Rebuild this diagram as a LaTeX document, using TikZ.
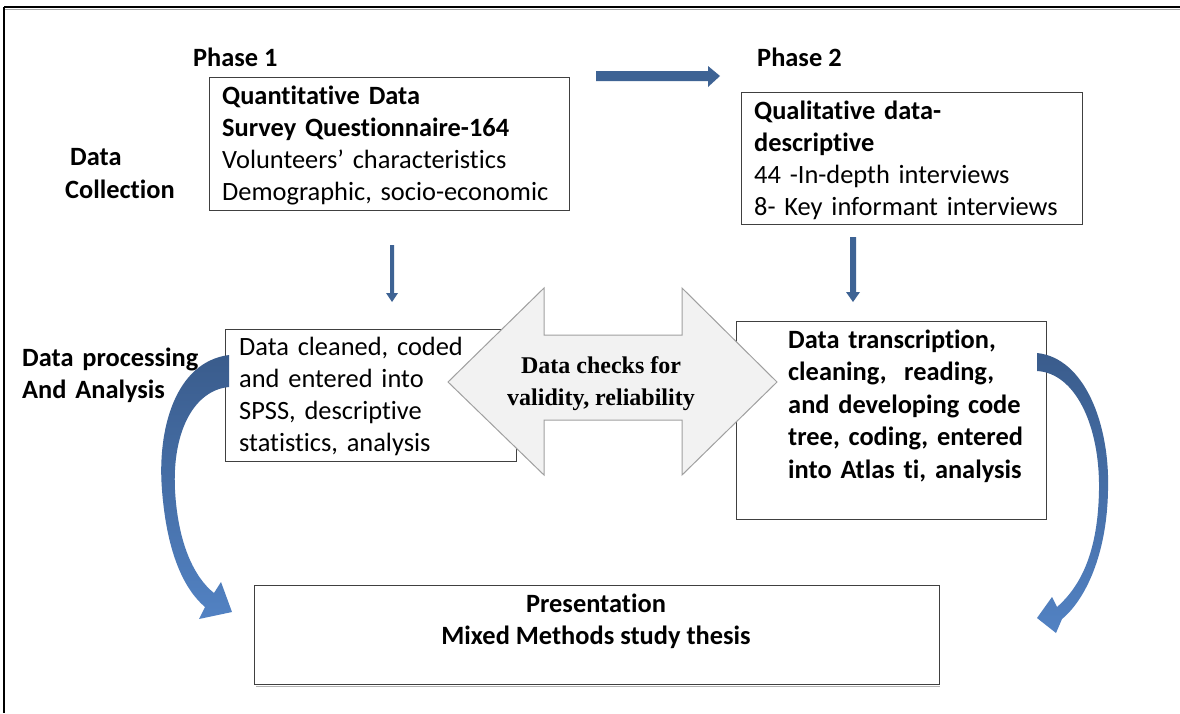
\documentclass[tikz,border=0pt]{standalone}
\usepackage{fontspec}
\setmainfont{Carlito}[Ligatures=NoCommon]
\newfontfamily\timesf{Liberation Serif}
\begin{document}
\begin{tikzpicture}[x=1pt,y=-1pt,
  box/.style={draw=black!75,line width=1.1pt,inner sep=0pt,anchor=north west},
  txt/.style={anchor=base west,inner sep=0pt,align=left,font=\fontsize{26.4}{32.3}\selectfont},
  lbl/.style={anchor=base west,inner sep=0pt,font=\fontsize{26.4}{32.5}\selectfont\bfseries},
  bluearrow/.style={fill=arrowblue,draw=none},
]
\definecolor{arrowblue}{RGB}{62,99,148}
\definecolor{darkband}{RGB}{58,92,140}
\definecolor{lightband}{RGB}{82,130,195}
\definecolor{grayfill}{RGB}{242,242,242}
\definecolor{grayline}{RGB}{160,160,160}
\useasboundingbox (0,0) rectangle (1180,713);
\fill[white] (0,0) rectangle (1180,713);
% frame
\draw[black!35,line width=1pt] (5,9) -- (1180,9);
\draw[black,line width=1.2pt] (4,7) -- (1180,7);
\draw[black,line width=1.2pt] (4,7) -- (4,713);

% labels
\node[lbl] (ph1) at (193,66) {Phase 1};
\node[lbl] (ph2) at (757,66) {Phase 2};
\node[lbl] (dc1) at (70,165) {Data};
\node[lbl] (dc2) at (65,198) {Collection};
\node[lbl,text width=200pt] (dp) at (22,366) {Data processing\\And Analysis};

% boxes
\node[box,minimum width=360pt,minimum height=133pt] (b1) at (209,77) {};
\node[box,minimum width=341pt,minimum height=132pt] (b2) at (741,92) {};
\node[box,minimum width=291pt,minimum height=132pt] (b3) at (225,329) {};
\node[box,minimum width=310pt,minimum height=198pt] (b4) at (736,321) {};
\draw[black!30,line width=1pt] (256,686) -- (940,686);
\node[box,minimum width=685pt,minimum height=99pt] (b5) at (254,585) {};

\node[txt,text width=350pt] (t1) at (222,104) {\textbf{Quantitative Data}\\\textbf{Survey Questionnaire-164}\\Volunteers’ characteristics\\Demographic, socio-economic};
\node[txt,text width=330pt] (t2) at (754,119) {\textbf{Qualitative data-}\\\textbf{descriptive}\\44 -In-depth interviews\\8- Key informant interviews};
\node[txt,text width=280pt] (t3) at (239,355) {Data cleaned, coded\\and entered into\\SPSS, descriptive\\statistics, analysis};
\node[txt,text width=300pt,font=\fontsize{26.4}{32.5}\selectfont\bfseries] (t4) at (788,348) {Data transcription,\\cleaning,\ \ reading,\\and developing code\\tree, coding, entered\\into Atlas ti, analysis};
\node[anchor=base,inner sep=0pt,align=center,font=\fontsize{26.4}{32}\selectfont\bfseries] (t5) at (596,644) {Presentation\\Mixed Methods study thesis};

% double arrow (data checks)
\draw[fill=grayfill,draw=grayline,line width=1pt]
  (448,382) -- (544,288) -- (544,335) -- (682,335) -- (682,288) -- (777,382)
  -- (682,475) -- (682,420) -- (544,420) -- (544,475) -- cycle;
\node[anchor=base,inner sep=0pt,align=center,font=\timesf\fontsize{24}{32}\selectfont\bfseries] (chk) at (601,405) {Data checks for\\validity, reliability};

% straight arrows
\fill[bluearrow] (596,71) -- (708,71) -- (708,66) -- (720,76) -- (708,87) -- (708,81) -- (596,81) -- cycle;
\fill[bluearrow] (390,245) -- (394,245) -- (394,293) -- (398,293) -- (392,302) -- (386,293) -- (390,293) -- cycle;
\fill[bluearrow] (850,237) -- (856,237) -- (856,292) -- (860,292) -- (853,302) -- (846,292) -- (850,292) -- cycle;

% curved arrows
\shade[top color=darkband,bottom color=lightband]
  (229,355) .. controls (175,362) and (157,430) .. (162,490)
  .. controls (167,555) and (185,590) .. (205,607) -- (199,619) -- (232,612) -- (221,582) -- (214,593)
  .. controls (195,578) and (178,545) .. (175,490)
  .. controls (172,430) and (195,390) .. (229,387) -- cycle;
\shade[top color=darkband,bottom color=lightband]
  (1037,353) .. controls (1085,358) and (1110,425) .. (1108,490)
  .. controls (1107,555) and (1085,600) .. (1062,619) -- (1056,633) -- (1037,618) -- (1052,597) -- (1057,607)
  .. controls (1082,585) and (1098,550) .. (1099,490)
  .. controls (1100,425) and (1075,373) .. (1037,371) -- cycle;
\end{tikzpicture}
\end{document}
